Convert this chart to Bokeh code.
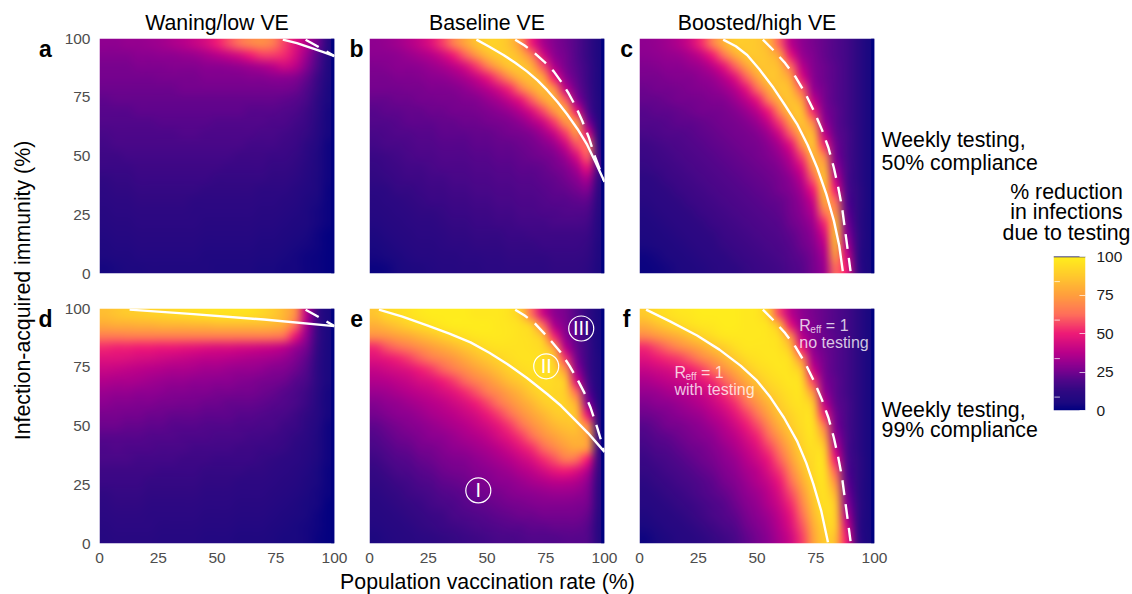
import numpy as np
from bokeh.core.properties import value
from bokeh.document import Document
from bokeh.embed import file_html
from bokeh.layouts import column, row
from bokeh.models import CustomJS, FixedTicker, LinearAxis, LinearColorMapper, Range1d
from bokeh.plotting import figure
from bokeh.resources import INLINE

FONT = "Liberation Sans"
column_titles = ["Waning/low VE", "Baseline VE", "Boosted/high VE"]
panel_letters = ["a", "b", "c", "d", "e", "f"]
axis_ticks = [0, 25, 50, 75, 100]
colorbar_ticks = [0, 25, 50, 75, 100]
colorbar_inner_ticks = [8.7, 33.7, 58.7, 83.7]
stop_values = [0, 5, 12.5, 20, 25, 30, 37.5, 50, 62.5, 75, 87.5, 100]
stop_colors = ["#000080", "#1c0880", "#2f0882", "#52068a", "#74028e", "#900090", "#b9008a", "#ee1a76", "#ff6f5a", "#ff9f3d", "#ffc92d", "#ffee1c"]

# rows run from the top of a panel (immunity ~98%) to the bottom (~2%), columns from 2% to 98% vaccination
panel_a = [
[30,30,31,31,32,33,35,37,40,44,50,57,63,68,70,66,56,46,36,24,8],
[28,28,28,29,29,30,30,31,32,34,37,40,44,50,55,55,52,44,32,20,7],
[26,26,26,27,27,27,28,28,28,29,29,30,31,33,35,38,42,38,28,18,6],
[25,25,25,25,25,26,26,26,26,27,27,27,27,28,28,29,29,28,23,15,6],
[24,24,24,24,24,24,24,25,25,25,25,25,25,25,25,25,25,24,20,14,5],
[22,23,23,23,23,23,23,23,23,23,23,23,23,23,23,23,22,21,18,12,5],
[21,21,21,22,22,22,22,22,22,22,22,22,22,21,21,21,20,19,16,11,4],
[20,20,20,20,20,21,21,21,21,21,20,20,20,20,20,19,19,17,15,10,4],
[18,19,19,19,19,19,19,20,20,19,19,19,19,19,18,18,17,16,14,9,4],
[17,18,18,18,18,18,18,18,18,18,18,18,18,17,17,17,16,15,12,8,3],
[16,16,17,17,17,17,17,17,17,17,17,17,16,16,16,15,15,14,11,7,3],
[15,15,15,16,16,16,16,16,16,16,16,15,15,15,15,14,14,13,10,7,3],
[13,14,14,15,15,15,15,15,15,15,14,14,14,14,14,13,13,12,9,6,3],
[12,13,13,14,14,14,14,14,14,13,13,13,13,13,12,12,12,10,8,6,2],
[11,12,12,13,13,13,13,13,12,12,12,12,12,12,11,11,10,9,7,5,2],
[10,11,11,12,12,12,12,12,11,11,11,11,11,11,10,10,9,8,6,4,2],
[9,10,10,11,11,11,11,11,11,10,10,10,10,10,9,9,8,7,6,4,2],
[8,9,9,10,10,10,10,10,10,9,9,9,9,9,8,8,7,6,5,3,1],
[7,8,8,9,9,9,9,9,9,8,8,8,8,8,7,7,6,5,4,3,1],
[6,7,7,8,8,8,8,8,8,7,7,7,7,7,6,6,5,4,3,2,1],
[4,5,6,6,7,7,7,7,7,7,6,6,6,6,5,5,4,4,3,2,1],
]
panel_b = [
[30,31,33,36,40,46,55,66,76,85,90,90,85,72,50,35,28,24,20,14,6],
[29,29,30,32,34,37,42,50,60,72,83,88,88,82,66,44,30,25,20,14,6],
[27,28,29,29,30,32,34,38,44,54,65,77,86,87,80,58,36,26,21,15,6],
[26,26,27,27,28,29,30,32,35,40,48,58,70,82,85,76,50,30,22,15,6],
[25,25,25,26,26,27,27,28,30,33,37,43,52,65,78,84,70,40,24,16,6],
[23,23,24,24,25,25,26,26,27,28,31,34,40,48,60,75,82,60,30,17,7],
[21,22,22,23,23,24,24,25,25,26,27,29,32,37,45,57,73,80,48,20,7],
[20,20,21,22,22,22,23,23,24,24,25,26,27,30,35,42,55,72,72,28,8],
[18,19,20,20,21,21,22,22,22,23,23,24,25,26,28,33,41,55,72,45,9],
[17,18,18,19,20,20,21,21,21,22,22,23,23,24,25,28,32,42,58,62,12],
[15,16,17,18,19,19,20,20,20,21,21,22,22,23,24,25,27,33,45,60,15],
[14,15,16,17,17,18,19,19,19,20,20,21,21,22,22,23,25,28,35,48,16],
[13,14,15,16,16,17,17,18,18,19,19,20,20,21,21,22,23,25,29,35,13],
[11,12,14,14,15,16,16,17,17,18,18,19,19,20,20,21,22,23,25,27,11],
[10,11,12,13,14,15,15,16,16,17,17,18,18,19,19,20,21,21,22,22,10],
[9,10,11,12,13,13,14,15,15,16,16,17,17,18,18,19,19,20,20,19,9],
[8,9,10,11,12,12,13,14,14,15,15,16,16,17,17,17,18,18,18,17,8],
[6,8,9,10,11,11,12,13,13,14,14,14,15,15,16,16,16,16,16,15,8],
[5,6,8,9,10,10,11,12,12,13,13,13,14,14,14,15,15,15,15,14,7],
[4,5,6,8,9,9,10,10,11,11,12,12,13,13,13,13,14,14,14,13,7],
[2,3,5,6,7,8,9,9,10,10,11,11,12,12,12,12,13,13,13,12,6],
]
panel_c = [
[30,31,33,36,42,52,66,80,88,88,87,82,60,38,30,26,23,20,17,12,5],
[29,30,31,32,35,40,50,63,78,86,87,85,75,48,32,27,23,20,17,12,5],
[27,28,29,29,31,33,38,47,60,75,85,86,83,62,38,28,24,21,17,12,5],
[26,26,27,28,28,30,32,37,46,60,76,86,85,75,46,29,24,21,17,12,5],
[24,25,25,26,27,28,29,32,37,47,62,78,86,83,60,32,25,21,17,12,5],
[23,23,24,25,25,26,27,28,32,38,48,65,80,86,74,40,26,21,17,12,5],
[21,22,22,23,24,25,25,26,28,32,38,50,68,84,84,52,28,22,17,12,5],
[20,20,21,22,22,23,24,25,26,28,32,40,55,74,86,68,32,22,17,12,5],
[18,19,20,20,21,22,23,24,25,26,28,33,43,60,80,82,40,23,18,12,5],
[16,17,18,19,20,21,22,23,24,25,26,29,35,47,70,86,52,25,18,12,5],
[15,16,17,18,19,20,21,22,23,24,25,27,31,39,56,82,68,27,18,12,5],
[14,15,16,17,18,19,20,21,22,23,24,25,28,34,46,73,80,32,19,12,5],
[12,13,15,16,17,18,19,20,21,22,23,24,26,30,39,60,86,40,19,12,5],
[11,12,13,15,16,17,18,19,20,21,22,23,25,28,34,50,84,50,20,13,5],
[10,11,12,13,15,16,17,18,19,20,21,22,23,26,31,42,78,62,21,13,5],
[8,10,11,12,13,15,16,17,18,19,20,21,22,25,29,37,65,72,23,13,5],
[7,8,10,11,12,13,15,16,17,18,19,20,21,24,27,33,52,82,26,13,5],
[6,7,8,10,11,12,13,15,16,17,18,19,20,22,25,30,44,84,30,14,5],
[5,6,7,8,10,11,12,14,15,16,17,18,19,21,24,28,38,80,36,14,5],
[3,4,6,7,8,10,11,12,14,15,16,17,18,20,22,26,34,72,44,14,5],
[2,3,4,6,7,8,10,11,12,14,15,16,17,19,21,25,32,62,50,15,5],
]
panel_d = [
[84,86,88,89,90,91,92,93,94,95,96,96,96,95,92,88,82,70,38,14,5],
[78,79,79,80,80,81,81,81,82,82,83,83,83,83,83,82,78,62,34,14,5],
[65,65,66,66,66,66,66,66,66,66,66,66,66,66,66,65,62,48,30,14,5],
[52,51,51,50,50,49,49,48,47,46,45,45,44,43,42,41,38,32,25,13,5],
[46,46,45,44,43,42,41,40,39,38,38,37,36,35,34,33,31,27,22,12,5],
[41,40,39,38,37,36,35,35,34,33,33,32,31,31,30,28,27,24,20,11,5],
[36,35,35,34,33,32,31,31,30,30,29,29,28,27,26,25,24,21,18,11,5],
[32,31,31,30,30,29,28,28,27,27,26,26,25,25,24,23,21,19,16,10,4],
[29,28,28,27,27,26,26,25,25,24,24,23,23,23,22,21,20,18,15,9,4],
[26,26,25,25,24,24,23,23,23,22,22,22,21,21,20,19,18,16,13,9,4],
[24,24,23,23,22,22,21,21,21,20,20,20,19,19,18,18,16,15,12,8,3],
[21,21,21,21,20,20,20,19,19,19,18,18,18,17,17,16,15,13,11,7,3],
[19,20,19,19,19,18,18,18,17,17,17,17,16,16,15,15,14,12,10,7,3],
[18,18,18,17,17,17,17,16,16,16,15,15,15,15,14,13,12,11,9,6,3],
[16,16,16,16,16,15,15,15,15,14,14,14,14,13,13,12,11,10,8,5,2],
[15,15,15,15,14,14,14,14,14,13,13,13,12,12,12,11,10,9,7,5,2],
[13,14,14,14,13,13,13,13,13,12,12,12,11,11,11,10,9,8,6,4,2],
[12,13,13,13,12,12,12,12,12,11,11,11,10,10,10,9,8,7,5,4,1],
[11,12,12,12,11,11,11,11,11,10,10,10,9,9,9,8,7,6,5,3,1],
[10,11,11,11,11,10,10,10,10,9,9,9,8,8,8,7,6,5,4,3,1],
[9,10,10,10,10,9,9,9,9,8,8,8,7,7,7,6,5,5,4,2,1],
]
panel_e = [
[86,92,94,96,98,99,99,99,99,98,98,98,96,88,62,42,30,26,20,13,5],
[80,83,86,90,93,96,98,99,99,99,99,98,97,95,88,62,36,27,21,14,5],
[70,72,75,78,82,85,89,92,95,97,98,98,97,96,94,84,52,30,22,14,5],
[52,58,62,66,70,74,78,82,86,90,94,96,96,96,95,92,74,38,23,15,5],
[46,48,51,55,60,65,69,73,78,83,87,91,94,96,96,94,88,55,26,15,6],
[40,42,44,46,50,54,60,65,70,75,80,85,90,93,95,95,92,72,32,16,6],
[36,37,39,41,44,46,50,55,61,67,72,78,84,88,92,94,93,86,44,18,6],
[32,33,35,37,39,41,44,47,52,58,65,70,76,82,88,92,92,88,62,22,6],
[28,30,31,33,35,37,39,42,45,50,56,63,70,76,82,88,91,90,78,30,7],
[25,27,29,30,32,34,36,38,41,44,49,55,62,70,76,82,87,89,84,48,9],
[22,24,26,28,29,31,33,35,37,40,43,48,54,62,70,76,82,85,85,68,10],
[20,22,24,25,27,29,30,32,34,36,39,43,48,54,62,70,75,80,82,75,12],
[18,20,22,23,25,26,28,30,31,33,35,38,42,47,53,61,68,74,78,72,14],
[16,18,20,21,23,24,26,27,28,30,32,34,37,41,45,52,58,65,62,50,14],
[14,16,18,19,21,22,24,25,26,28,29,31,33,36,39,43,48,50,46,36,13],
[13,14,16,17,19,20,22,23,24,26,27,29,30,32,34,36,38,38,36,30,12],
[11,13,14,16,17,18,20,21,22,24,25,26,28,29,30,31,32,32,31,27,11],
[10,11,13,14,15,17,18,19,21,22,23,24,25,26,27,28,28,28,27,25,11],
[9,10,11,13,14,15,16,18,19,20,21,22,23,24,24,25,25,25,25,23,10],
[8,9,10,11,13,14,15,16,17,18,19,20,21,21,22,22,23,23,23,21,9],
[6,8,9,10,11,12,13,14,15,16,17,18,18,19,20,20,20,21,21,20,9],
]
panel_f = [
[88,93,95,97,98,99,99,99,99,98,97,88,56,38,30,26,23,20,17,12,5],
[80,84,88,92,95,97,98,99,99,98,98,96,82,48,32,27,23,20,17,12,5],
[68,72,76,80,85,90,94,97,98,98,98,97,93,70,38,28,24,21,17,12,5],
[52,57,62,68,73,78,84,89,94,97,97,97,96,84,50,30,24,21,17,12,5],
[46,49,52,55,60,67,73,80,87,93,96,97,97,93,68,34,25,21,17,12,5],
[40,42,44,47,50,55,62,70,78,86,92,95,97,96,85,42,26,21,17,12,5],
[35,37,39,41,43,47,52,60,69,78,86,92,95,97,92,56,28,22,17,12,5],
[31,32,34,36,38,41,45,52,60,70,79,87,92,96,95,72,32,22,17,12,5],
[27,29,30,32,34,37,41,46,53,62,72,81,89,94,96,86,40,23,18,12,5],
[24,25,27,29,31,33,37,41,47,55,64,75,85,91,95,92,52,25,18,12,5],
[21,23,25,26,28,30,33,37,42,49,57,68,80,88,94,95,66,27,18,12,5],
[19,21,22,24,26,28,30,34,38,44,51,61,73,84,92,96,78,32,19,12,5],
[17,19,20,22,24,25,28,31,35,40,46,55,66,79,90,95,88,40,19,12,5],
[15,17,18,20,22,24,26,29,32,37,42,49,60,74,87,94,93,50,20,13,5],
[14,15,17,18,20,22,24,27,30,34,38,45,54,68,83,93,95,60,21,13,5],
[12,14,15,17,18,20,22,25,28,32,36,41,49,62,78,91,96,70,23,13,5],
[10,12,14,15,17,19,21,23,26,30,33,38,45,57,72,88,96,80,26,13,5],
[9,10,12,14,15,17,19,21,24,28,31,36,42,52,67,85,95,86,30,14,5],
[7,9,10,12,14,16,18,20,22,26,29,33,39,48,62,82,93,88,36,14,5],
[5,7,9,10,12,14,16,18,20,24,27,31,37,45,58,78,90,88,44,14,5],
[3,5,7,9,10,12,14,16,18,22,25,29,35,42,55,75,88,84,50,15,5],
]

solid_a = ([78, 84, 90, 95, 100], [99.5, 98, 96, 94.3, 92.5])
dashed_a = ([87.7, 94, 100], [99.5, 96, 92.5])
solid_b = ([45.5, 51, 57, 62, 67, 71.5, 75.6, 80, 84, 88.5, 92.6, 96, 100], [99.5, 96.5, 93, 89.7, 86, 82.2, 78, 73, 67.9, 61.5, 54.8, 47.8, 39])
dashed_b = ([62, 66, 70, 74.3, 78.4, 81.8, 84.8, 87.8, 90.5, 93.3, 96, 100], [99.5, 97, 94, 90.2, 86, 81.3, 76.5, 71, 65, 58, 49.6, 39])
solid_c = ([35.6, 41, 45.8, 51, 57, 62, 67, 71.5, 75.6, 79.5, 82.7, 85, 86.5], [99.5, 96.7, 93, 86.9, 79, 71.5, 63.7, 54.8, 45, 33.8, 22.5, 11.8, 1])
dashed_c = ([52.5, 57, 62, 66.5, 70.6, 74.3, 77.7, 80.4, 82.7, 84.6, 86.2, 88, 89.8], [99.5, 95, 89.5, 83.5, 76.5, 69, 61, 53.5, 45, 36.5, 28, 14.5, 1])
solid_d = ([12.8, 40, 70, 100], [99.5, 97.6, 95.3, 92.5])
solid_e = ([4, 14, 24.5, 34, 43, 51, 58.6, 67, 75.6, 81.5, 87, 93, 100], [99.5, 96.5, 92.8, 89.3, 85.6, 81.2, 76.4, 70.4, 63.6, 58.6, 53, 47, 39])
dashed_e = ([62, 66, 70, 75.5, 81.3, 85, 88.4, 91.4, 94, 97, 100], [99.5, 97, 94, 88.2, 81.4, 75.8, 70, 64.2, 58, 49, 39])
solid_f = ([2.8, 13, 24.5, 34, 43, 50, 55.7, 61.5, 67, 71, 74, 77.3, 80.2], [99.5, 94.5, 88.5, 82.5, 75.7, 69.3, 62.2, 53.5, 43.7, 34.2, 25.3, 14, 0.5])

panel_data = [panel_a, panel_b, panel_c, panel_d, panel_e, panel_f]
panel_curves = [
    (solid_a, dashed_a), (solid_b, dashed_b), (solid_c, dashed_c),
    (solid_d, dashed_a), (solid_e, dashed_e), (solid_f, dashed_c),
]

ramp = np.linspace(0, 100, 256)
palette = []
for v in ramp:
    rgb = []
    for k in (1, 3, 5):
        channel = [int(c[k:k + 2], 16) for c in stop_colors]
        rgb.append(int(round(np.interp(v, stop_values, channel))))
    palette.append("#%02x%02x%02x" % tuple(rgb))
mapper = LinearColorMapper(palette=palette, low=0, high=100)


def add_text(p, x, y, text, size="21.3px", color="#000000", alpha=1.0, style="normal", align="left", angle=0):
    p.text(x=[x], y=[y], text=[text], text_font=value(FONT), text_font_size=value(size), text_color=color,
           text_alpha=alpha, text_font_style=style, text_align=align, text_baseline="middle", angle=angle,
           level="overlay")


def make_panel(i):
    is_top = i < 3
    col = i % 3
    left = 63 if col == 0 else 20
    right = 166 if col == 2 else 15
    top = 38 if is_top else 18
    bottom = 17 if is_top else 23
    p = figure(width=left + 235 + right, height=top + 235 + bottom, output_backend="svg", toolbar_location=None,
               x_range=Range1d(0, 100), y_range=Range1d(0, 100),
               min_border_left=left, min_border_right=right, min_border_top=top, min_border_bottom=bottom)
    p.grid.visible = False
    p.outline_line_color = None
    p.xaxis.visible = not is_top
    p.yaxis.visible = col == 0
    for ax in (p.xaxis[0], p.yaxis[0]):
        ax.ticker = FixedTicker(ticks=axis_ticks)
        ax.axis_line_color = None
        ax.major_tick_line_color = None
        ax.minor_tick_line_color = None
        ax.major_label_text_font = FONT
        ax.major_label_text_font_size = "15.5px"
        ax.major_label_text_color = "#4d4d4d"
        ax.major_label_standoff = 3
    grid = np.array(panel_data[i], dtype=float)[::-1]
    p.image(image=[grid], x=0, y=0, dw=100, dh=100, color_mapper=mapper)
    p.quad(left=[98.6], right=[100], bottom=[0], top=[100], color=palette[0], line_color=None)
    solid, dashed = panel_curves[i]
    p.line(solid[0], solid[1], line_color="white", line_width=2.4, line_join="round")
    p.line(dashed[0], dashed[1], line_color="white", line_width=2.4, line_dash="15 9")
    add_text(p, -23 if col == 0 else -5.5, 95.7, panel_letters[i], size="23px", style="bold", align="center")
    if is_top:
        add_text(p, 50, 106.8, column_titles[col], align="center")
    return p


panels = [make_panel(i) for i in range(6)]

# right-hand row captions
add_text(panels[2], 103, 56.6, "Weekly testing,")
add_text(panels[2], 103, 47.2, "50% compliance")
add_text(panels[5], 103, 57, "Weekly testing,")
add_text(panels[5], 103, 48.1, "99% compliance")

# regions in panel e
e = panels[4]
e.scatter([46.3, 75.2, 90.1], [22.6, 75.4, 91.5], size=25, marker="circle", fill_color=None, line_color="white", line_width=1.2)
for x, y, t in [(46.3, 22.6, "I"), (75.2, 75.4, "II"), (90.1, 91.5, "III")]:
    add_text(e, x, y, t, size="20px", color="white", align="center")

# curve notes in panel f
f = panels[5]
note = dict(color="white", alpha=0.78)
add_text(f, 14.9, 72.8, "R", size="16px", **note)
add_text(f, 19.6, 71.2, "eff", size="10px", **note)
add_text(f, 26.2, 72.8, "= 1", size="16px", **note)
add_text(f, 14.9, 65.5, "with testing", size="16px", **note)
add_text(f, 68, 92.8, "R", size="16px", **note)
add_text(f, 72.7, 91.2, "eff", size="10px", **note)
add_text(f, 79.3, 92.8, "= 1", size="16px", **note)
add_text(f, 68, 85.5, "no testing", size="16px", **note)

ylab = figure(width=36, height=594, output_backend="svg", toolbar_location=None,
              x_range=Range1d(0, 36), y_range=Range1d(594, 0),
              min_border_left=0, min_border_right=0, min_border_top=0, min_border_bottom=0)
ylab.axis.visible = False
ylab.grid.visible = False
ylab.outline_line_color = None
add_text(ylab, 22, 290, "Infection-acquired immunity (%)", align="center", angle=np.pi / 2)

xlab = figure(width=1004, height=28, output_backend="svg", toolbar_location=None,
              x_range=Range1d(36, 1040), y_range=Range1d(594, 566),
              min_border_left=0, min_border_right=0, min_border_top=0, min_border_bottom=0)
xlab.axis.visible = False
xlab.grid.visible = False
xlab.outline_line_color = None
add_text(xlab, 487, 581, "Population vaccination rate (%)", align="center")

cb = figure(width=132, height=594, output_backend="svg", toolbar_location=None,
            x_range=Range1d(0, 1), y_range=Range1d(0, 100),
            min_border_left=53, min_border_right=47, min_border_top=256, min_border_bottom=184,
            background_fill_alpha=0, border_fill_alpha=0)
cb.xaxis.visible = False
cb.yaxis.visible = False
cb.grid.visible = False
cb.outline_line_color = None
cb.image(image=[ramp.reshape(-1, 1)], x=0, y=0, dw=1, dh=100, color_mapper=mapper)
cb.line([0, 1], [100, 100], line_color=palette[0], line_width=1.5)
cb.segment(x0=[0.03] * 4, x1=[0.2] * 4, y0=colorbar_inner_ticks, y1=colorbar_inner_ticks, line_color="white", line_alpha=0.7, line_width=1)
ax = LinearAxis(ticker=FixedTicker(ticks=colorbar_ticks), axis_line_color=None, minor_tick_line_color=None,
                major_tick_line_color="white", major_tick_line_alpha=0.7, major_tick_in=6, major_tick_out=0,
                major_label_text_font=FONT, major_label_text_font_size="15.5px", major_label_text_color="#1a1a1a",
                major_label_standoff=11)
cb.add_layout(ax, "right")
for y, t in [(142.2, "% reduction"), (128.6, "in infections"), (115, "due to testing")]:
    add_text(cb, 0.406, y, t, align="center")

page = row(column(ylab), column(row(*panels[:3]), row(*panels[3:]), xlab), column(cb, margin=(0, 0, 0, -40)))

# Bokeh's SVG context bakes the grid into a pixelated PNG: redraw each panel's picture with the
# browser's image filtering, from the same 21x21 colour cells.
smooth = CustomJS(code="""
const n = 21;
function redo(el){
  if(el.__smooth || +el.getAttribute('width') < 200) return;
  el.__smooth = true;
  const src = new Image();
  src.onload = () => {
    const w = src.width, h = src.height;
    const a = document.createElement('canvas'); a.width = n; a.height = n;
    const ca = a.getContext('2d'); ca.imageSmoothingEnabled = false;
    ca.drawImage(src, 0, 0, w, h, 0, 0, n, n);
    const b = document.createElement('canvas'); b.width = w; b.height = h;
    const cb = b.getContext('2d'); cb.imageSmoothingEnabled = true; cb.imageSmoothingQuality = 'high';
    cb.drawImage(a, 0, 0, w, h);
    el.setAttribute('href', b.toDataURL());
  };
  src.src = el.getAttribute('href');
}
function walk(root){root.querySelectorAll('*').forEach(el=>{
  if(el.tagName.toLowerCase()==='image') redo(el);
  if(el.shadowRoot) walk(el.shadowRoot);
});}
function go(){walk(document.body);}
go(); [50,150,300].forEach(t=>setTimeout(go,t));
""")
doc = Document()
doc.add_root(page)
doc.js_on_event("document_ready", smooth)
open("out.html", "w").write(file_html(doc, INLINE))
